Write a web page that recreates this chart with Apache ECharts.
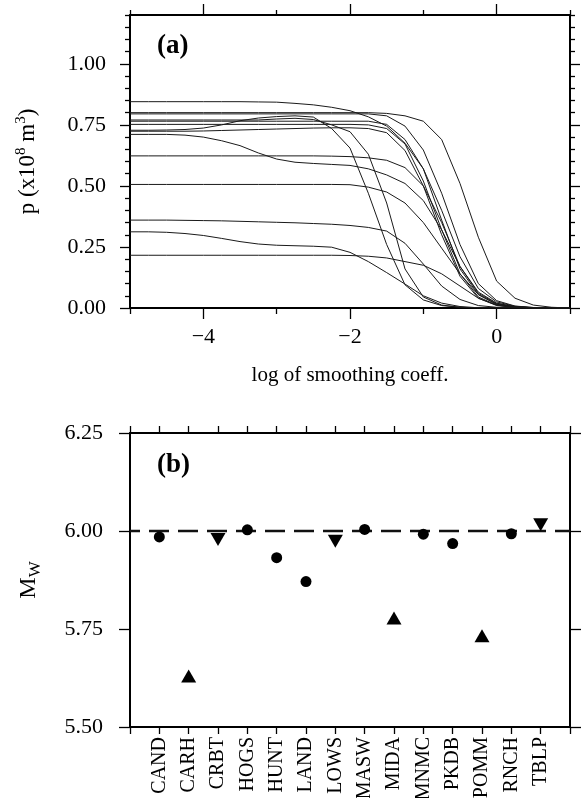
<!DOCTYPE html>
<html>
<head>
<meta charset="utf-8">
<script src="https://cdn.jsdelivr.net/npm/echarts@6/dist/echarts.min.js"></script>
<style>
  html, body { margin: 0; padding: 0; background: #fff; }
  #chart { width: 582px; height: 798px; }
</style>
</head>
<body>
<div id="chart"></div>
<script>
// ---- panel (a): trade-off curves, one per station ----
const logCoeff = [-5, -4.75, -4.5, -4.25, -4, -3.75, -3.5, -3.25, -3, -2.75, -2.5, -2.25,
                  -2, -1.75, -1.5, -1.25, -1, -0.75, -0.5, -0.25, 0, 0.25, 0.5, 0.75, 1];

const curveA = [0.845,0.845,0.845,0.845,0.845,0.845,0.845,0.844,0.843,0.838,0.832,0.822,0.808,0.783,0.745,0.675,0.570,0.400,0.210,0.080,0.025,0.007,0.002,0,0];
const curveB = [0.800,0.800,0.800,0.800,0.800,0.800,0.800,0.800,0.800,0.800,0.800,0.800,0.800,0.800,0.797,0.787,0.765,0.690,0.510,0.290,0.110,0.040,0.012,0.003,0];
const curveC = [0.795,0.795,0.795,0.795,0.795,0.795,0.795,0.795,0.795,0.795,0.795,0.795,0.795,0.795,0.787,0.745,0.647,0.470,0.260,0.100,0.030,0.008,0.002,0,0];
const curveD = [0.770,0.770,0.770,0.770,0.770,0.770,0.770,0.770,0.774,0.777,0.772,0.750,0.722,0.630,0.430,0.160,0.045,0.012,0.003,0,0,0,0,0,0];
const curveE = [0.765,0.765,0.765,0.765,0.765,0.765,0.765,0.765,0.765,0.765,0.765,0.765,0.765,0.765,0.752,0.690,0.570,0.360,0.160,0.055,0.015,0.004,0,0,0];
const curveF = [0.752,0.752,0.752,0.752,0.752,0.752,0.752,0.752,0.752,0.752,0.752,0.752,0.752,0.750,0.735,0.672,0.520,0.320,0.140,0.045,0.012,0.003,0,0,0];
const curveG = [0.728,0.728,0.729,0.731,0.737,0.750,0.767,0.778,0.784,0.787,0.782,0.735,0.655,0.470,0.260,0.095,0.033,0.010,0.003,0.001,0,0,0,0,0];
const curveH = [0.724,0.724,0.724,0.724,0.725,0.727,0.729,0.731,0.733,0.735,0.737,0.738,0.738,0.735,0.718,0.645,0.500,0.300,0.130,0.040,0.010,0.002,0,0,0];
const curveI = [0.711,0.711,0.711,0.708,0.700,0.685,0.665,0.635,0.610,0.597,0.592,0.588,0.584,0.570,0.545,0.510,0.440,0.320,0.170,0.065,0.020,0.005,0.001,0,0];
const curveJ = [0.623,0.623,0.623,0.623,0.623,0.623,0.623,0.623,0.623,0.623,0.623,0.622,0.620,0.615,0.605,0.575,0.500,0.350,0.170,0.060,0.018,0.005,0.001,0,0];
const curveK = [0.506,0.506,0.506,0.506,0.506,0.506,0.506,0.506,0.506,0.506,0.506,0.506,0.505,0.495,0.475,0.430,0.350,0.245,0.140,0.055,0.015,0.004,0.001,0,0];
const curveL = [0.360,0.360,0.360,0.359,0.358,0.357,0.355,0.353,0.351,0.349,0.346,0.343,0.338,0.330,0.315,0.265,0.180,0.090,0.035,0.010,0.003,0.001,0,0,0];
const curveM = [0.312,0.312,0.310,0.305,0.297,0.285,0.272,0.262,0.257,0.255,0.253,0.249,0.228,0.190,0.145,0.098,0.050,0.020,0.006,0.001,0,0,0,0,0];
const curveN = [0.216,0.216,0.216,0.216,0.216,0.216,0.216,0.216,0.216,0.216,0.216,0.216,0.215,0.212,0.205,0.190,0.175,0.140,0.090,0.040,0.012,0.003,0,0,0];

const curves = [curveA, curveB, curveC, curveD, curveE, curveF, curveG,
                curveH, curveI, curveJ, curveK, curveL, curveM, curveN];

const xMajorA = [-4, -2, 0];
const xMinorA = [-5, -3, -1, 1];
const yMajorA = [0, 0.25, 0.5, 0.75, 1.0];

// ---- panel (b): moment magnitude per station ----
const stations = ['CAND','CARH','CRBT','HOGS','HUNT','LAND','LOWS',
                  'MASW','MIDA','MNMC','PKDB','POMM','RNCH','TBLP'];
const mwValues = [5.985, 5.630, 5.978, 6.003, 5.932, 5.871, 5.974,
                  6.004, 5.778, 5.992, 5.968, 5.733, 5.993, 6.016];
const mwMarker = ['circle','up','down','circle','circle','circle','down',
                  'circle','up','circle','circle','up','circle','down'];
const yTicksB = [5.5, 5.75, 6.0, 6.25];
const referenceMw = 6.0;

// ---- styling helpers ----
const FONT = '"Liberation Serif", "Times New Roman", serif';
const INK = '#000';
const frame = { show: true, onZero: false, lineStyle: { color: INK, width: 2 } };
const noLine = { show: false, onZero: false };

let yMinorA = [];
for (let k = 0; k <= 24; k++) {
  if (k % 5 !== 0) yMinorA.push(+(k * 0.05).toFixed(2));
}
const stationTicks = [];
for (let k = 0; k <= stations.length + 1; k++) stationTicks.push(k);
const stationLabelPos = stations.map((s, i) => i + 1);

function tick(values, len) {
  return { show: true, customValues: values, length: len, inside: false,
           lineStyle: { color: INK, width: 1.3 } };
}
const minus = v => String(v).replace('-', '\u2212');

const xAxes = [
  // panel (a) bottom
  { gridIndex: 0, type: 'value', min: -5, max: 1, position: 'bottom',
    axisLine: frame, axisTick: tick(xMajorA, 11), splitLine: { show: false },
    axisLabel: { customValues: xMajorA, formatter: minus, margin: 18,
                 fontFamily: FONT, fontSize: 22, color: INK },
    name: 'log of smoothing coeff.', nameLocation: 'middle', nameGap: 57,
    nameTextStyle: { fontFamily: FONT, fontSize: 21, color: INK } },
  { gridIndex: 0, type: 'value', min: -5, max: 1, position: 'bottom',
    axisLine: noLine, axisTick: tick(xMinorA, 6), axisLabel: { show: false }, splitLine: { show: false } },
  // panel (a) top
  { gridIndex: 0, type: 'value', min: -5, max: 1, position: 'top',
    axisLine: frame, axisTick: tick(xMajorA, 11), axisLabel: { show: false }, splitLine: { show: false } },
  { gridIndex: 0, type: 'value', min: -5, max: 1, position: 'top',
    axisLine: noLine, axisTick: tick(xMinorA, 5), axisLabel: { show: false }, splitLine: { show: false } },
  // panel (b) bottom, station names
  { gridIndex: 1, type: 'value', min: 0, max: stations.length + 1, position: 'bottom',
    axisLine: frame, axisTick: tick(stationTicks, 7), splitLine: { show: false },
    axisLabel: { customValues: stationLabelPos, rotate: 90, margin: 10,
                 formatter: v => stations[Math.round(v) - 1] || '',
                 fontFamily: FONT, fontSize: 20, color: INK } },
  // panel (b) top
  { gridIndex: 1, type: 'value', min: 0, max: stations.length + 1, position: 'top',
    axisLine: frame, axisTick: tick(stationTicks, 7), axisLabel: { show: false }, splitLine: { show: false } }
];

const yAxes = [
  // panel (a) left
  { gridIndex: 0, type: 'value', min: 0, max: 1.2, position: 'left',
    axisLine: frame, axisTick: tick(yMajorA, 10), splitLine: { show: false },
    axisLabel: { customValues: yMajorA, formatter: v => v.toFixed(2), margin: 24,
                 fontFamily: FONT, fontSize: 22, color: INK },
    name: '{n|p (x10}{s|8}{n| m}{s|3}{n|)}', nameLocation: 'middle', nameGap: 88,
    nameTextStyle: { fontFamily: FONT, color: INK,
      rich: { n: { fontFamily: FONT, fontSize: 23, lineHeight: 28, color: INK },
              s: { fontFamily: FONT, fontSize: 15, lineHeight: 15, verticalAlign: 'top', color: INK } } } },
  { gridIndex: 0, type: 'value', min: 0, max: 1.2, position: 'left',
    axisLine: noLine, axisTick: tick(yMinorA, 5), axisLabel: { show: false }, splitLine: { show: false } },
  // panel (a) right
  { gridIndex: 0, type: 'value', min: 0, max: 1.2, position: 'right',
    axisLine: frame, axisTick: tick(yMajorA, 10), axisLabel: { show: false }, splitLine: { show: false } },
  { gridIndex: 0, type: 'value', min: 0, max: 1.2, position: 'right',
    axisLine: noLine, axisTick: tick(yMinorA, 5), axisLabel: { show: false }, splitLine: { show: false } },
  // panel (b) left
  { gridIndex: 1, type: 'value', min: 5.5, max: 6.25, interval: 0.25, position: 'left',
    axisLine: frame, axisTick: tick(yTicksB, 11), splitLine: { show: false },
    axisLabel: { formatter: v => v.toFixed(2), margin: 27,
                 fontFamily: FONT, fontSize: 22, color: INK },
    name: '{m|M}{w|W}', nameLocation: 'middle', nameGap: 86,
    nameTextStyle: { fontFamily: FONT, color: INK,
      rich: { m: { fontFamily: FONT, fontSize: 24, lineHeight: 30, color: INK },
              w: { fontFamily: FONT, fontSize: 17, lineHeight: 17, verticalAlign: 'bottom', color: INK } } } },
  // panel (b) right
  { gridIndex: 1, type: 'value', min: 5.5, max: 6.25, interval: 0.25, position: 'right',
    axisLine: frame, axisTick: tick(yTicksB, 11), axisLabel: { show: false }, splitLine: { show: false } }
];

const series = curves.map(c => ({
  type: 'line', xAxisIndex: 0, yAxisIndex: 0,
  data: logCoeff.map((x, i) => [x, c[i]]),
  showSymbol: false, symbol: 'none', smooth: false, silent: true,
  lineStyle: { color: '#1a1a1a', width: 1 }, z: 2
}));

// reference magnitude
series.push({
  type: 'line', xAxisIndex: 4, yAxisIndex: 4,
  data: [[0, referenceMw], [stations.length + 1, referenceMw]],
  showSymbol: false, symbol: 'none', silent: true,
  lineStyle: { color: '#111', width: 2.6, type: [20, 9], dashOffset: 10 }, z: 2
});

series.push({
  type: 'scatter', xAxisIndex: 4, yAxisIndex: 4, silent: true, z: 3,
  itemStyle: { color: '#000', opacity: 1 },
  data: stations.map((s, i) => {
    const kind = mwMarker[i];
    return {
      name: s,
      value: [i + 1, mwValues[i]],
      symbol: kind === 'circle' ? 'circle' : 'triangle',
      symbolSize: kind === 'circle' ? 11 : [15, 13],
      symbolRotate: kind === 'down' ? 180 : 0
    };
  })
});

const chart = echarts.init(document.getElementById('chart'), null, { renderer: 'canvas' });
chart.setOption({
  animation: false,
  backgroundColor: '#fff',
  grid: [
    { left: 130, top: 15, width: 440, height: 293, outerBoundsMode: 'none', containLabel: false },
    { left: 130, top: 433, width: 440, height: 294, outerBoundsMode: 'none', containLabel: false }
  ],
  xAxis: xAxes,
  yAxis: yAxes,
  series: series,
  graphic: [
    { type: 'text', left: 157, top: 33,
      style: { text: '(a)', font: 'bold 27px ' + FONT, fill: INK } },
    { type: 'text', left: 157, top: 452,
      style: { text: '(b)', font: 'bold 27px ' + FONT, fill: INK } }
  ]
});
</script>
</body>
</html>
